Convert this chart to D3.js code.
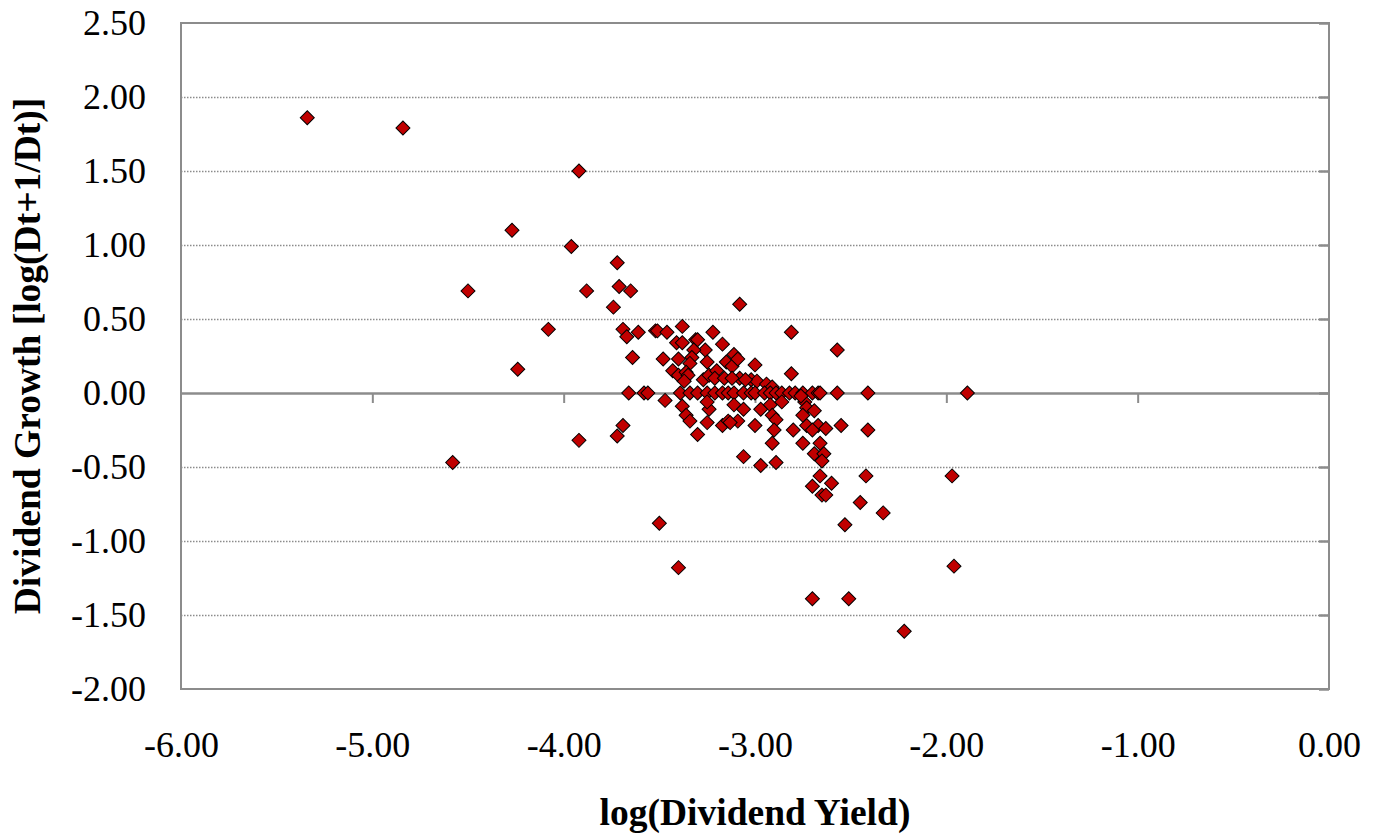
<!DOCTYPE html>
<html>
<head>
<meta charset="utf-8">
<script src="https://cdn.jsdelivr.net/npm/d3@7"></script>
<style>
  body { margin: 0; background: #fff; }
  text { font-family: "Liberation Serif", "Times New Roman", serif; }
</style>
</head>
<body>
<div id="chart"></div>
<script>
// log(Dividend Yield) values
const xVals = [
  -5.34, -4.84, -3.92, -4.27, -3.96, -3.72, -4.50, -3.88, -3.71, -3.65, -3.74, -4.08, -4.24, -4.58, -3.92,
  -3.50, -3.40, -3.06, -2.70, -2.51, -2.22, -1.96, -1.97, -1.89, -2.33, -2.45, -2.53, -2.42, -2.41, -2.41,
  -2.57, -2.81, -3.08,
  -3.69, -3.67, -3.61, -3.52, -3.51, -3.46, -3.38, -3.64, -3.48, -3.40, -3.41, -3.38, -3.31, -3.30, -3.22,
  -3.17, -3.26, -3.32, -3.33, -3.34, -3.25, -3.43, -3.40, -3.36, -3.35, -3.37, -3.27, -3.24, -3.20, -3.21,
  -3.16, -3.11, -3.15, -3.12, -3.09, -3.00, -3.08, -3.12, -3.02, -2.99, -2.94, -2.91, -2.81, -3.05,
  -3.66, -3.58, -3.56, -3.39, -3.34, -3.30, -3.25, -3.21, -3.17, -3.14, -3.11, -3.06, -3.02, -3.00, -2.95,
  -2.92, -2.89, -2.86, -2.82, -2.79, -2.75, -2.70, -2.67, -2.66, -2.57,
  -3.47, -3.38, -3.36, -3.34, -3.30, -3.69, -3.72, -3.25, -3.24, -3.25, -3.17, -3.14, -3.11, -3.06, -2.97,
  -2.92, -2.91, -2.89, -2.86, -3.09, -3.13, -3.00, -2.90, -2.80, -2.73, -2.67, -2.70, -2.63, -2.55, -2.74,
  -2.73, -2.75, -2.69, -2.76, -2.91, -2.75, -2.66, -2.69, -2.64, -2.65, -2.97, -2.89, -2.66, -2.60, -2.70,
  -2.65, -2.63
];
// Dividend Growth values, same order
const yVals = [
  1.86, 1.79, 1.50, 1.10, 0.99, 0.88, 0.69, 0.69, 0.72, 0.69, 0.58, 0.43, 0.16, -0.47, -0.32,
  -0.88, -1.18, -0.43, -1.39, -1.39, -1.61, -1.17, -0.56, 0.00, -0.81, -0.74, -0.89, -0.56, -0.25, 0.00,
  0.29, 0.41, 0.60,
  0.43, 0.38, 0.41, 0.42, 0.42, 0.41, 0.45, 0.24, 0.23, 0.23, 0.34, 0.34, 0.36, 0.36, 0.41,
  0.33, 0.29, 0.29, 0.24, 0.20, 0.21, 0.15, 0.12, 0.14, 0.12, 0.08, 0.09, 0.12, 0.15, 0.10,
  0.10, 0.26, 0.21, 0.18, 0.23, 0.19, 0.10, 0.10, 0.09, 0.08, 0.06, 0.04, 0.13, 0.09,
  0, 0, 0, 0, 0, 0, 0, 0, 0, 0, 0, 0, 0, 0, 0,
  0, 0, 0, 0, 0, 0, 0, 0, 0, 0,
  -0.05, -0.09, -0.15, -0.19, -0.28, -0.22, -0.29, -0.20, -0.11, -0.06, -0.22, -0.19, -0.08, -0.11, -0.11,
  -0.08, -0.15, -0.18, -0.06, -0.19, -0.20, -0.22, -0.25, -0.25, -0.22, -0.22, -0.25, -0.24, -0.22, -0.06,
  -0.10, -0.15, -0.12, -0.02, -0.34, -0.34, -0.34, -0.41, -0.41, -0.46, -0.49, -0.47, -0.56, -0.61, -0.63,
  -0.69, -0.69
];
const xTicks = [-6, -5, -4, -3, -2, -1, 0];
const yTicks = [-2, -1.5, -1, -0.5, 0, 0.5, 1, 1.5, 2, 2.5];

const points = xVals.map((x, i) => ({ x: x, y: yVals[i] }));

const width = 1373, height = 835;
const margin = { left: 181, top: 23, right: 44, bottom: 146 };
const w = width - margin.left - margin.right;
const h = height - margin.top - margin.bottom;

// plain hyphen for negatives, like the original
const fmt = v => d3.format(".2f")(v).replace("\u2212", "-");

const svg = d3.select("#chart").append("svg")
  .attr("width", width)
  .attr("height", height);

const g = svg.append("g")
  .attr("transform", `translate(${margin.left},${margin.top})`);

const x = d3.scaleLinear().domain([-6, 0]).range([0, w]);
const y = d3.scaleLinear().domain([-2, 2.5]).range([h, 0]);

// dotted gridlines
g.append("g")
  .call(d3.axisLeft(y).tickValues(yTicks.filter(v => v !== 0 && v !== 2.5 && v !== -2))
    .tickSize(-w).tickFormat(""))
  .call(s => s.select(".domain").remove())
  .selectAll("line")
  .attr("stroke", "#8c8c8c")
  .attr("stroke-width", 1.5)
  .attr("stroke-dasharray", "1.5,1.5");

// plot border
g.append("rect")
  .attr("width", w).attr("height", h)
  .attr("fill", "none")
  .attr("stroke", "#8c8c8c")
  .attr("stroke-width", 2);

// horizontal axis line at y = 0 with ticks
g.append("g")
  .attr("transform", `translate(0,${y(0)})`)
  .call(d3.axisBottom(x).tickValues(xTicks.slice(1, -1)).tickSize(10).tickSizeOuter(0).tickFormat(""))
  .call(s => s.select(".domain").attr("stroke", "#8c8c8c").attr("stroke-width", 2.5))
  .selectAll("line").attr("stroke", "#8c8c8c").attr("stroke-width", 2);

// vertical axis ticks at x = 0 (right edge)
g.append("g")
  .attr("transform", `translate(${x(0)},0)`)
  .call(d3.axisLeft(y).tickValues(yTicks).tickSize(10).tickSizeOuter(0).tickFormat(""))
  .call(s => s.select(".domain").remove())
  .selectAll("line").attr("stroke", "#8c8c8c").attr("stroke-width", 2.5);

// x tick labels along the bottom
g.append("g")
  .attr("transform", `translate(0,${h})`)
  .call(d3.axisBottom(x).tickValues(xTicks).tickSize(0).tickPadding(42).tickFormat(fmt))
  .call(s => s.select(".domain").remove())
  .selectAll("text")
  .attr("font-size", 36)
  .attr("fill", "#000");

// y tick labels along the left
g.append("g")
  .call(d3.axisLeft(y).tickValues(yTicks).tickSize(0).tickPadding(35).tickFormat(fmt))
  .call(s => s.select(".domain").remove())
  .selectAll("text")
  .attr("font-size", 36)
  .attr("fill", "#000");

// points (diamonds)
g.append("g")
  .selectAll("path")
  .data(points)
  .enter().append("path")
  .attr("d", d3.symbol(d3.symbolSquare, 98))
  .attr("transform", d => `translate(${x(d.x)},${y(d.y)}) rotate(45)`)
  .attr("fill", "#c00000")
  .attr("stroke", "#000")
  .attr("stroke-width", 1);

// axis titles
svg.append("text")
  .attr("x", margin.left + w / 2)
  .attr("y", 825)
  .attr("text-anchor", "middle")
  .attr("font-size", 37.5)
  .attr("font-weight", "bold")
  .text("log(Dividend Yield)");

svg.append("text")
  .attr("transform", `translate(40,${margin.top + h / 2}) rotate(-90)`)
  .attr("text-anchor", "middle")
  .attr("font-size", 37.5)
  .attr("font-weight", "bold")
  .text("Dividend Growth [log(Dt+1/Dt)]");
</script>
</body>
</html>
